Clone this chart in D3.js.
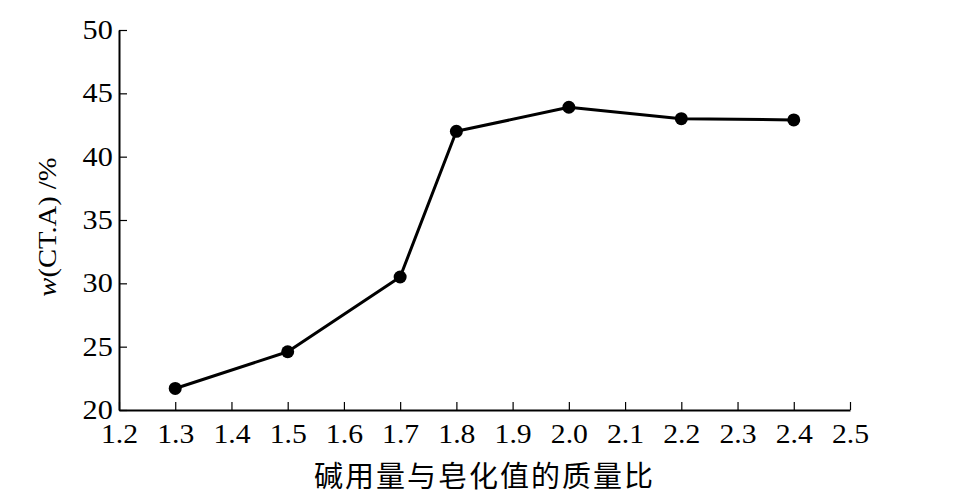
<!DOCTYPE html>
<html><head><meta charset="utf-8">
<script src="https://cdn.jsdelivr.net/npm/d3@7"></script>
<style>body{margin:0;background:#fff}svg{display:block}</style>
</head><body>
<svg id="c" width="959" height="498"></svg>
<script>
const xValues = [1.3, 1.5, 1.7, 1.8, 2.0, 2.2, 2.4];
const yValues = [21.7, 24.6, 30.5, 42.0, 43.9, 43.0, 42.9];
const xTicks = [1.2,1.3,1.4,1.5,1.6,1.7,1.8,1.9,2.0,2.1,2.2,2.3,2.4,2.5];
const yTicks = [20,25,30,35,40,45,50];
const xTitle = "碱用量与皂化值的质量比";

const svg = d3.select("#c");
const L = 119, R = 850, T = 30, B = 410;
const x = d3.scaleLinear().domain([1.2, 2.5]).range([L, R]);
const y = d3.scaleLinear().domain([20, 50]).range([B, T]);
const serif = "'Liberation Serif','Times New Roman',serif";

const xa = svg.append("g").attr("transform", `translate(0,${B})`)
  .call(d3.axisBottom(x).tickValues(xTicks).tickFormat(d3.format(".1f"))
    .tickSizeInner(-8).tickSizeOuter(0).tickPadding(14));
xa.select(".domain").attr("stroke", "#000").attr("stroke-width", 2);
xa.selectAll(".tick line").attr("stroke", "#000").attr("stroke-width", 1.2);
xa.selectAll(".tick text").attr("font-family", serif).attr("font-size", 27)
  .attr("fill", "#000").attr("transform", "scale(1.1,1)");

const ya = svg.append("g").attr("transform", `translate(${L},0)`)
  .call(d3.axisLeft(y).tickValues(yTicks)
    .tickSizeInner(-8).tickSizeOuter(0).tickPadding(5));
ya.select(".domain").attr("stroke", "#000").attr("stroke-width", 2);
ya.selectAll(".tick line").attr("stroke", "#000").attr("stroke-width", 1.2);
ya.selectAll(".tick text").attr("font-family", serif).attr("font-size", 27)
  .attr("fill", "#000").attr("x", -5.5).attr("transform", "scale(1.12,1)");

const data = xValues.map((v, i) => ({x: v, y: yValues[i]}));
svg.append("path").datum(data)
  .attr("fill", "none").attr("stroke", "#000").attr("stroke-width", 3)
  .attr("stroke-linejoin", "round")
  .attr("d", d3.line().x(d => x(d.x)).y(d => y(d.y)));
svg.selectAll("circle.pt").data(data).enter().append("circle")
  .attr("class", "pt").attr("cx", d => x(d.x)).attr("cy", d => y(d.y))
  .attr("r", 6.5).attr("fill", "#000");

// y label
const yl = svg.append("text")
  .attr("transform", "translate(56,227) rotate(-90) scale(1.1,1)")
  .attr("text-anchor", "middle").attr("font-family", serif).attr("font-size", 26).attr("fill", "#000");
yl.append("tspan").attr("font-style", "italic").text("w");
yl.append("tspan").text("(CT.A) /%");

// x title
svg.append("text").attr("x", (L + R) / 2).attr("y", 487)
  .attr("text-anchor", "middle").attr("font-family", "'Noto Sans CJK SC',sans-serif")
  .attr("font-size", 29).attr("letter-spacing", 2).attr("fill", "#000").text(xTitle);
</script>
</body></html>
